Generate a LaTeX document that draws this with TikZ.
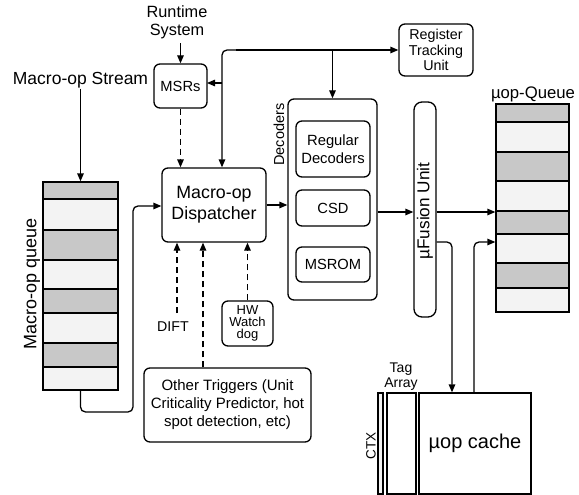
\documentclass[tikz,border=0pt]{standalone}
\usepackage{fontspec}
\setmainfont{Liberation Sans}
\usetikzlibrary{arrows.meta,calc}
\definecolor{qgray}{HTML}{C8C8C8}
\definecolor{qlight}{HTML}{F3F3F3}
\newcommand{\fs}[1]{\fontsize{#1}{#1}\selectfont}
\begin{document}
\begin{tikzpicture}[x=1pt,y=-1pt,
  line width=1.3pt,
  arr/.style={-{Triangle[length=8pt,width=6.5pt]}},
  dsh/.style={dash pattern=on 6pt off 4pt},
  rbox/.style={draw,rounded corners=6pt,inner sep=0pt,align=center},
  plain/.style={draw,inner sep=0pt},
  lbl/.style={inner sep=0pt,align=center},
]
\useasboundingbox (0,0) rectangle (579,495);

% ---------- Macro-op queue ----------
\foreach \a/\b/\c in {182/199/qgray,199/230/qlight,230/260/qgray,260/289/qlight,289/313/qgray,313/343/qlight,343/367/qgray,367/390/qlight}{
  \draw[fill=\c] (43,\a) rectangle (118,\b);
}
\node[plain,minimum width=75pt,minimum height=208pt] (qL) at (80.5,286) {};
\node[lbl,rotate=90,font=\fs{18}] (qLlbl) at (32,284) {Macro-op queue};
\node[lbl,font=\fs{17.5}] (stream) at (80.5,80) {Macro-op Stream};

% ---------- uop queue ----------
\foreach \a/\b/\c in {104/122/qgray,122/152/qlight,152/181/qgray,181/211/qlight,211/234/qgray,234/263/qlight,263/288/qgray,288/312/qlight}{
  \draw[fill=\c] (496,\a) rectangle (569,\b);
}
\node[plain,minimum width=73pt,minimum height=208pt] (uq) at (532.5,208) {};
\node[lbl,font=\fs{16.7}] (uqlbl) at (533,94) {µop-Queue};

% ---------- boxes ----------
\node[lbl,font=\fs{16.3}] (rt) at (177,22) {Runtime\\[2pt]System};
\node[rbox,minimum width=53pt,minimum height=44pt,font=\fs{14.7}] (msr) at (180.5,86) {MSRs};
\node[rbox,minimum width=104pt,minimum height=74pt,font=\fs{17.8}] (disp) at (214,205) {Macro-op\\[3pt]Dispatcher};
\node[rbox,minimum width=74pt,minimum height=52pt,font=\fs{14.3}] (rtu) at (436,50) {Register\\[1pt]Tracking\\[1pt]Unit};

\node[rbox,minimum width=89pt,minimum height=201pt] (dec) at (332.5,199.5) {};
\node[lbl,rotate=90,font=\fs{14.5},anchor=east] (declbl) at (279,103) {Decoders};
\node[rbox,minimum width=74pt,minimum height=56pt,font=\fs{14.8}] (regdec) at (333,149) {Regular\\[3pt]Decoders};
\node[rbox,minimum width=74pt,minimum height=36pt,font=\fs{14.7}] (csd) at (333,208) {CSD};
\node[rbox,minimum width=74pt,minimum height=35pt,font=\fs{14.7}] (msrom) at (333,264.5) {MSROM};

\node[draw,rounded corners=8pt,inner sep=0pt,minimum width=22pt,minimum height=215pt] (fus) at (425,209.5) {};
\node[lbl,rotate=90,font=\fs{17.2}] (fuslbl) at (425,211) {µFusion Unit};

\node[plain,minimum width=112pt,minimum height=101pt,font=\fs{20}] (cache) at (475,443.5) {µop cache};
\node[plain,minimum width=29pt,minimum height=101pt] (tag) at (401.5,443.5) {};
\node[draw,fill=qlight,inner sep=0pt,minimum width=5pt,minimum height=101pt] (ctx) at (380.5,443.5) {};
\node[lbl,font=\fs{14}] (taglbl) at (401,377) {Tag\\[1pt]Array};
\node[lbl,rotate=90,font=\fs{13.5}] (ctxlbl) at (371,446) {CTX};

\node[lbl,font=\fs{14.2}] (dift) at (173,327) {DIFT};
\node[rbox,minimum width=51pt,minimum height=45pt,font=\fs{13}] (hw) at (247.5,323.5) {HW\\[-1pt]Watch\\[-1pt]dog};
\node[rbox,minimum width=167pt,minimum height=74pt,font=\fs{15}] (oth) at (227.5,405) {Other Triggers (Unit\\[3pt]Criticality Predictor, hot\\[3pt]spot detection, etc)};

% ---------- helper coordinates ----------
\coordinate (bj) at (222,50);
\coordinate (bj2) at (236,50);
\coordinate (xq) at (133,0);
\coordinate (ybot) at (0,412);
\coordinate (xd) at (177,0);
\coordinate (xo) at (203,0);
\coordinate (lv1) at (0,212);
\coordinate (lv2) at (0,242);
\coordinate (cx1) at (452,0);
\coordinate (cx2) at (474,0);
\coordinate (msrin) at (207,83);

% ---------- connectors ----------
\draw[arr] (stream.south) -- (qL.north -| stream.south);
\draw[arr,rounded corners=5pt] (qL.south) |- (xq |- ybot) |- ([yshift=-1pt]disp.west);
\draw[arr] (rt.south -| msr.north) ++(0,4) -- (msr.north);
\draw[arr,dsh] (msr.south) -- (msr.south |- disp.north);
\draw[arr,rounded corners=5pt] (bj2) -- (bj) -- (bj |- disp.north);
\draw[arr] (bj2) -- (rtu.west);
\draw[arr] (bj |- msrin) -- (msrin);
\draw[arr] (dec.north |- bj) -- (dec.north);
\draw[arr] (disp.east) -- (disp.east -| dec.west);
\draw[arr] (dec.east |- lv1) -- (fus.west |- lv1);
\draw[arr] (fus.east |- lv1) -- (uq.west |- lv1);
\draw[arr,rounded corners=5pt] (fus.east |- lv2) -| (cx1 |- cache.north);
\draw[arr,rounded corners=5pt] (cx2 |- cache.north) |- (uq.west |- lv2);
\draw[arr,dsh] (xd |- 0,313) -- (xd |- disp.south);
\draw[arr,dsh] (xo |- oth.north) -- (xo |- disp.south);
\draw[arr,dsh] (hw.north) -- (hw.north |- disp.south);
\end{tikzpicture}
\end{document}
